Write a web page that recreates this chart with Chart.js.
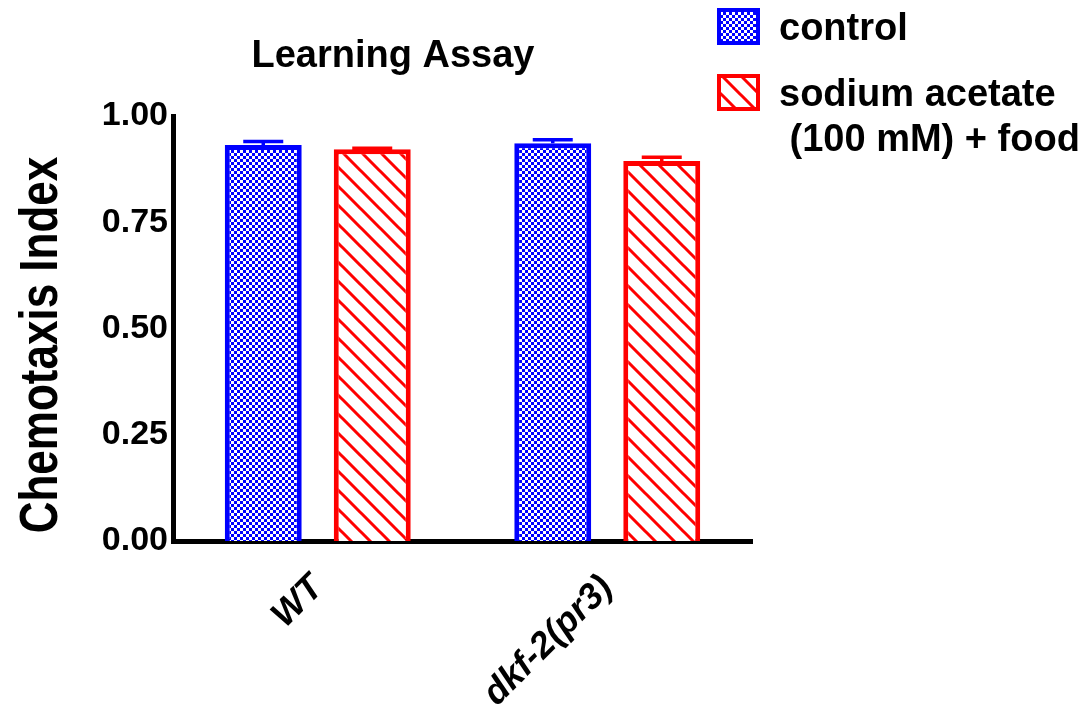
<!DOCTYPE html>
<html lang="en">
<head>
  <meta charset="UTF-8">
  <title>Learning Assay</title>
  <script src="https://cdn.jsdelivr.net/npm/chart.js"></script>
  <style>
    body { margin: 0; padding: 0; background: #fff; }
    canvas { display: block; }
  </style>
</head>
<body>
  <canvas id="chart" width="1087" height="717"></canvas>

  <script>
    const categories = ['WT', 'dkf-2(pr3)'];
    const controlMeans = [0.932, 0.936];
    const controlErr = [0.008, 0.008];
    const acetateMeans = [0.922, 0.894];
    const acetateErr = [0.002, 0.009];
    const yTicks = [0, 0.25, 0.5, 0.75, 1.0];
    const seriesNames = ['control', ['sodium acetate', ' (100 mM) + food']];

    const FONT = "'Liberation Sans', Arial, sans-serif";
    const BLUE = '#0000ff';
    const RED = '#ff0000';

    // blue/white checker fill
    function checkerPattern(ctx) {
      const c = document.createElement('canvas');
      c.width = 6; c.height = 6;
      const g = c.getContext('2d');
      g.fillStyle = BLUE;
      g.fillRect(0, 0, 6, 6);
      g.fillStyle = '#fff';
      g.fillRect(0, 0, 3, 3);
      g.fillRect(3, 3, 3, 3);
      return ctx.createPattern(c, 'repeat');
    }

    // red "\" hatch fill
    function hatchPattern(ctx) {
      const s = 19;
      const c = document.createElement('canvas');
      c.width = s; c.height = s;
      const g = c.getContext('2d');
      g.fillStyle = '#fff';
      g.fillRect(0, 0, s, s);
      g.strokeStyle = RED;
      g.lineWidth = 3;
      g.beginPath();
      g.moveTo(-2, -2); g.lineTo(s + 2, s + 2);
      g.moveTo(-2, s - 2); g.lineTo(2, s + 2);
      g.moveTo(s - 2, -2); g.lineTo(s + 2, 2);
      g.stroke();
      return ctx.createPattern(c, 'repeat');
    }

    const errorBars = {
      id: 'errorBars',
      afterDatasetsDraw(chart) {
        const ctx = chart.ctx;
        const y = chart.scales.y;
        chart.data.datasets.forEach((ds, i) => {
          const meta = chart.getDatasetMeta(i);
          meta.data.forEach((bar, j) => {
            const top = y.getPixelForValue(ds.data[j] + ds.errors[j]);
            ctx.save();
            ctx.strokeStyle = ds.borderColor;
            ctx.lineWidth = 3.5;
            ctx.beginPath();
            ctx.moveTo(bar.x, bar.y);
            ctx.lineTo(bar.x, top);
            ctx.moveTo(bar.x - 20, top);
            ctx.lineTo(bar.x + 20, top);
            ctx.stroke();
            ctx.restore();
          });
        });
      }
    };

    const extras = {
      id: 'extras',
      afterDraw(chart) {
        const ctx = chart.ctx;
        ctx.save();
        ctx.fillStyle = '#000';
        ctx.textBaseline = 'middle';
        ctx.textAlign = 'center';
        ctx.font = 'bold 38px ' + FONT;
        ctx.fillText('Learning Assay', 393, 57);

        // y axis title, a little taller than the plain font
        ctx.save();
        ctx.translate(42, 345);
        ctx.rotate(-Math.PI / 2);
        ctx.scale(1, 1.2);
        ctx.font = 'bold 44px ' + FONT;
        ctx.fillText('Chemotaxis Index', 0, 0);
        ctx.restore();

        // legend
        ctx.textAlign = 'left';
        ctx.font = 'bold 38px ' + FONT;
        const rows = [8, 74];
        chart.data.datasets.forEach((ds, i) => {
          const by = rows[i];
          ctx.fillStyle = ds.backgroundColor;
          ctx.fillRect(717, by, 43, 37);
          ctx.strokeStyle = ds.borderColor;
          ctx.lineWidth = 4;
          ctx.strokeRect(719, by + 2, 39, 33);
          ctx.fillStyle = '#000';
          const lines = [].concat(seriesNames[i]);
          lines.forEach((t, k) => ctx.fillText(t, 779, by + 22 + k * 45));
        });
        ctx.restore();
      }
    };

    const ctx = document.getElementById('chart').getContext('2d');
    new Chart(ctx, {
      type: 'bar',
      data: {
        labels: categories,
        datasets: [
          {
            label: 'control',
            data: controlMeans,
            errors: controlErr,
            backgroundColor: checkerPattern(ctx),
            borderColor: BLUE,
            borderWidth: 5,
            borderSkipped: 'start'
          },
          {
            label: 'sodium acetate (100 mM) + food',
            data: acetateMeans,
            errors: acetateErr,
            backgroundColor: hatchPattern(ctx),
            borderColor: RED,
            borderWidth: 5,
            borderSkipped: 'start'
          }
        ]
      },
      options: {
        responsive: false,
        animation: false,
        categoryPercentage: 0.753,
        barPercentage: 0.706,
        layout: { padding: { top: 116, right: 335, left: 0, bottom: 0 } },
        plugins: {
          legend: { display: false },
          title: { display: false },
          tooltip: { enabled: false }
        },
        scales: {
          x: {
            grid: { display: false },
            border: { display: true, color: '#000', width: 5 },
            ticks: {
              color: '#000',
              maxRotation: 45,
              minRotation: 45,
              padding: 18,
              font: { family: FONT, size: 36, weight: 'bold', style: 'italic' }
            },
            afterFit(scale) { scale.height = 176; }
          },
          y: {
            min: 0,
            max: 1,
            grid: { display: false },
            border: { display: true, color: '#000', width: 5 },
            afterBuildTicks(scale) { scale.ticks = yTicks.map(v => ({ value: v })); },
            ticks: {
              color: '#000',
              padding: -3,
              callback: v => Number(v).toFixed(2),
              font: { family: FONT, size: 34, weight: 'bold' }
            },
            afterFit(scale) { scale.width = 173; }
          }
        }
      },
      plugins: [errorBars, extras]
    });
  </script>
</body>
</html>
